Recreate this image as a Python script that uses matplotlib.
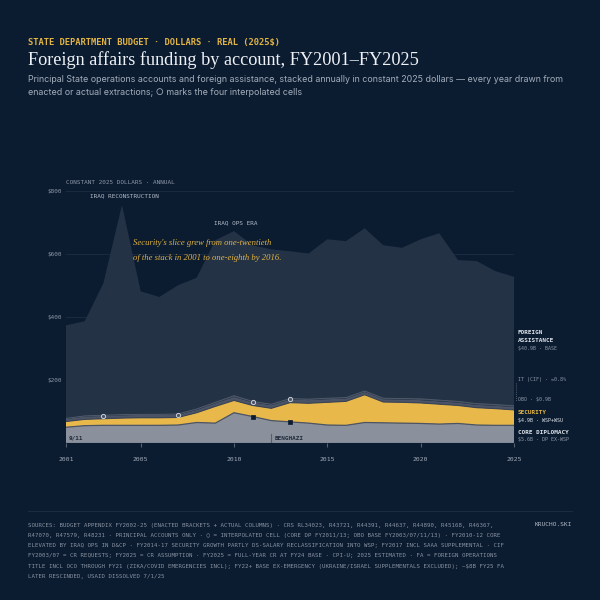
import numpy as np
import matplotlib
matplotlib.use("Agg")
import matplotlib.pyplot as plt

# ---------------- data (constant 2025 dollars, hundreds of millions) ----------------
years = list(range(2001, 2026))
core_diplomacy = [50, 55, 56, 56, 56, 56, 57, 65, 63, 96, 84, 71, 67, 63, 57, 56, 65, 64, 63, 62, 60, 62, 57, 56, 56]
security = [18, 20, 21, 23, 24, 24, 24, 31, 53, 39, 35, 39, 61, 63, 72, 76, 88, 66, 66, 65, 63, 57, 55, 53, 49]
obo = [8, 9, 9, 9, 9, 9, 9, 9, 10, 11, 10, 10, 10, 10, 10, 9, 9, 9, 9, 9, 9, 9, 9, 9, 9]
it_cif = [2, 2, 2, 2, 2, 2, 2, 3, 3, 4, 3, 3, 3, 3, 3, 3, 3, 3, 3, 4, 4, 4, 4, 4, 4]
foreign_assistance = [295, 300, 418, 665, 390, 372, 408, 416, 514, 522, 495, 491, 467, 462, 504,
                      496, 516, 485, 478, 506, 529, 448, 452, 423, 409]
obo_interp_years = [2003, 2007, 2011, 2013]
core_interp_years = [2011, 2013]

x_ticks = [2001, 2005, 2010, 2015, 2020, 2025]
y_ticks = [200, 400, 600, 800]
y_tick_labels = ["$200", "$400", "$600", "$800"]

# ---------------- style ----------------
BG = "#0b1b30"
FA_C = "#243246"
CORE_C = "#8a909c"
SEC_C = "#e8b84b"
OBO_C = "#4a5466"
IT_C = "#3a4558"
GRID_C = "#1b2a40"
MUTED = "#8e98a7"
LIGHT = "#dde3ea"
YEL = "#e2b443"
MONO = "DejaVu Sans Mono"

W = H = 600
fig = plt.figure(figsize=(6, 6), dpi=100, facecolor=BG)


def fx(px):
    return px / W


def fy(py):
    return 1 - py / H


ax = fig.add_axes([fx(66), fy(443), (514 - 66) / W, (443 - 190.7) / H])
ax.set_facecolor(BG)
for s in ax.spines.values():
    s.set_visible(False)

ax.set_xlim(2001, 2025)
ax.set_ylim(0, 800)

for v in y_ticks:
    ax.axhline(v, color=GRID_C, lw=0.7, zorder=0)

layers = [core_diplomacy, security, obo, it_cif, foreign_assistance]
cols = [CORE_C, SEC_C, OBO_C, IT_C, FA_C]
ax.stackplot(years, *layers, colors=cols, lw=0, zorder=2)

cum = np.cumsum(np.array(layers), axis=0)
ax.plot(years, cum[0], color="#4d5564", lw=0.9, zorder=3)
ax.plot(years, cum[1], color="#3b4556", lw=0.8, zorder=3)
ax.plot(years, cum[3], color="#55606f", lw=0.6, zorder=3)

ax.axhline(0, color="#56606f", lw=0.9, zorder=4)

# interpolated markers
oy = [cum[2][years.index(y)] for y in obo_interp_years]
ax.scatter(obo_interp_years, oy, s=9, facecolor=OBO_C, edgecolor="#c9d0d9", lw=0.7, zorder=5)
cy = [cum[0][years.index(y)] for y in core_interp_years]
ax.scatter(core_interp_years, cy, s=7, marker="s", facecolor=BG, edgecolor=BG, lw=0.5, zorder=5)

# event markers
ax.plot([2012, 2012], [0, 30], color="#56606f", lw=0.8, zorder=4)

ax.set_xticks(x_ticks)
ax.set_xticklabels([str(t) for t in x_ticks])
ax.set_yticks(y_ticks)
ax.set_yticklabels(y_tick_labels)
ax.tick_params(axis="x", colors="#56606f", length=3, width=0.8, pad=7,
               labelcolor="#a3acb9", labelsize=4.6)
ax.tick_params(axis="y", length=0, pad=3, labelcolor=MUTED, labelsize=4.3)
for lab in ax.get_xticklabels() + ax.get_yticklabels():
    lab.set_fontfamily(MONO)

# ---------------- text ----------------
renderer = fig.canvas.get_renderer()


def fit(t, target_w):
    bb = t.get_window_extent(renderer=renderer)
    t.set_fontsize(t.get_fontsize() * target_w / bb.width)


t = fig.text(fx(28), fy(42), "STATE DEPARTMENT BUDGET · DOLLARS · REAL (2025$)",
             family=MONO, weight="bold", color=YEL, fontsize=6, va="center")
fit(t, 254)

t = fig.text(fx(28), fy(65), "Foreign affairs funding by account, FY2001–FY2025",
             family="Liberation Serif", color="#eef1f5", fontsize=18, va="baseline")
fit(t, 392)

fig.text(fx(28), fy(80), "Principal State operations accounts and foreign assistance, stacked annually in constant 2025 dollars — every year drawn from",
         family="Inter", color="#a4aebb", fontsize=6.4, va="center")
fig.text(fx(28), fy(92.5), "enacted or actual extractions; ○ marks the four interpolated cells",
         family=["Inter", "DejaVu Sans"], color="#a4aebb", fontsize=6.4, va="center")

fig.text(fx(66.5), fy(182), "CONSTANT 2025 DOLLARS · ANNUAL", family=MONO, color=MUTED,
         fontsize=4.3, va="center")
fig.text(fx(90), fy(196), "IRAQ RECONSTRUCTION", family=MONO, color="#b3bcc8", fontsize=4.3, va="center")
fig.text(fx(214), fy(222.5), "IRAQ OPS ERA", family=MONO, color="#b3bcc8", fontsize=4.3, va="center")

t = fig.text(fx(133), fy(243.5), "Security's slice grew from one-twentieth",
             family="Liberation Serif", style="italic", color=YEL, fontsize=8, va="center")
fit(t, 139)
t2 = fig.text(fx(133), fy(257.5), "of the stack in 2001 to one-eighth by 2016.",
              family="Liberation Serif", style="italic", color=YEL, fontsize=t.get_fontsize(), va="center")

fig.text(fx(69), fy(438), "9/11", family=MONO, color="#1e2a3b", fontsize=4.3, va="center", weight="bold")
fig.text(fx(275), fy(438), "BENGHAZI", family=MONO, color="#1e2a3b", fontsize=4.3, va="center", weight="bold")

# legend at right
LX = fx(518)
fig.text(LX, fy(332), "FOREIGN", family=MONO, weight="bold", color=LIGHT, fontsize=4.3, va="center")
fig.text(LX, fy(340.3), "ASSISTANCE", family=MONO, weight="bold", color=LIGHT, fontsize=4.3, va="center")
fig.text(LX, fy(348.5), "$40.9B · BASE", family=MONO, color=MUTED, fontsize=3.6, va="center")
fig.text(LX, fy(379), "IT (CIF) · ≈0.8%", family=MONO, color=MUTED, fontsize=3.6, va="center")
fig.text(LX, fy(399.5), "OBO · $0.9B", family=MONO, color=MUTED, fontsize=3.6, va="center")
fig.text(LX, fy(412.5), "SECURITY", family=MONO, weight="bold", color=YEL, fontsize=4.3, va="center")
fig.text(LX, fy(420.3), "$4.9B · WSP+WSU", family=MONO, color=LIGHT, fontsize=3.6, va="center")
fig.text(LX, fy(432), "CORE DIPLOMACY", family=MONO, weight="bold", color=LIGHT, fontsize=4.3, va="center")
fig.text(LX, fy(439.5), "$5.6B · DP EX-WSP", family=MONO, color=MUTED, fontsize=3.6, va="center")
fig.add_artist(plt.Line2D([fx(515.5), fx(515.5)], [fy(383), fy(401)], color="#6d7786",
                          lw=0.6, ls=(0, (1, 1.5))))

# footer
fig.add_artist(plt.Line2D([fx(28), fx(572)], [fy(511), fy(511)], color="#1c2b40", lw=0.8))
footer = [
    "SOURCES: BUDGET APPENDIX FY2002-25 (ENACTED BRACKETS + ACTUAL COLUMNS) · CRS RL34023, R43721, R44391, R44637, R44890, R45168, R46367,",
    "R47070, R47579, R48231 · PRINCIPAL ACCOUNTS ONLY · ○ = INTERPOLATED CELL (CORE DP FY2011/13; OBO BASE FY2003/07/11/13) · FY2010-12 CORE",
    "ELEVATED BY IRAQ OPS IN D&CP · FY2014-17 SECURITY GROWTH PARTLY DS-SALARY RECLASSIFICATION INTO WSP; FY2017 INCL SAAA SUPPLEMENTAL · CIF",
    "FY2003/07 = CR REQUESTS; FY2025 = CR ASSUMPTION · FY2025 = FULL-YEAR CR AT FY24 BASE · CPI-U; 2025 ESTIMATED · FA = FOREIGN OPERATIONS",
    "TITLE INCL OCO THROUGH FY21 (ZIKA/COVID EMERGENCIES INCL); FY22+ BASE EX-EMERGENCY (UKRAINE/ISRAEL SUPPLEMENTALS EXCLUDED); ~$8B FY25 FA",
    "LATER RESCINDED, USAID DISSOLVED 7/1/25",
]
fsz = 3.6
for i, line in enumerate(footer):
    tt = fig.text(fx(28), fy(525 + i * 10.3), line, family=MONO, color="#8a94a3", fontsize=3.6, va="center")
    if i == 0:
        fit(tt, 460)
        fsz = tt.get_fontsize()
    else:
        tt.set_fontsize(fsz)
fig.text(fx(572), fy(525), "KRUCHO.SKI", family=MONO, color="#b3bcc8", fontsize=4.4, va="center", ha="right")

fig.savefig("out.png", dpi=100, facecolor=BG)
